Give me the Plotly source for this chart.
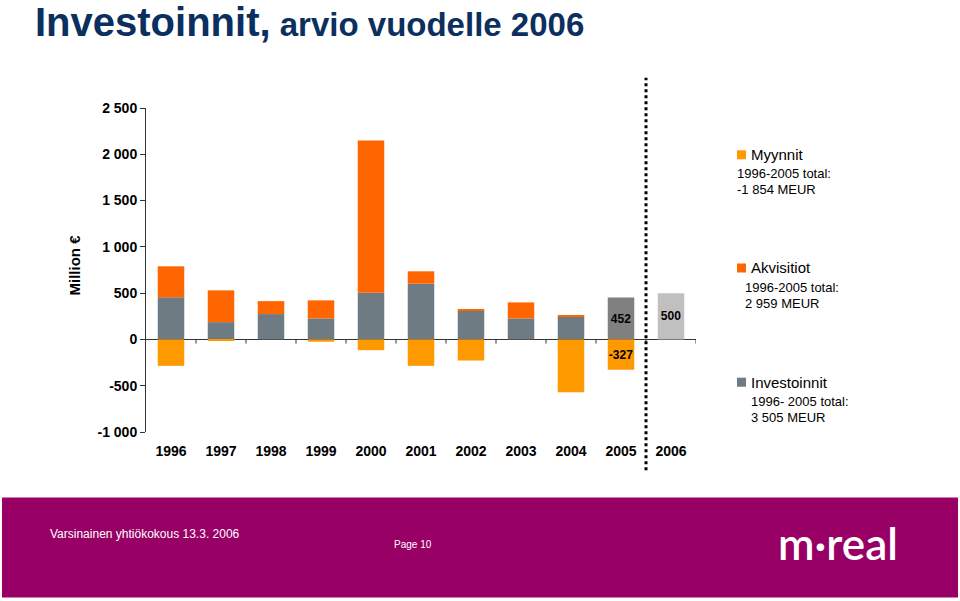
import plotly.graph_objects as go

years = ["1996", "1997", "1998", "1999", "2000", "2001", "2002", "2003", "2004", "2005", "2006"]
investoinnit = [455, 187, 274, 227, 505, 602, 310, 227, 245, 452, 500]
akvisitiot = [335, 343, 140, 195, 1645, 134, 8, 173, 15, 0, 0]
myynnit = [-285, -8, 0, -25, -116, -285, -228, 0, -570, -327, 0]
inv_labels = ["", "", "", "", "", "", "", "", "", "452", "500"]
myy_labels = ["", "", "", "", "", "", "", "", "", "-327", ""]
y_tickvals = [2500, 2000, 1500, 1000, 500, 0, -500, -1000]
y_ticktext = ["2 500", "2 000", "1 500", "1 000", "500", "0", "-500", "-1 000"]
legend_names = ["Myynnit", "Akvisitiot", "Investoinnit"]
legend_sub = [["1996-2005 total:", "-1 854 MEUR"],
              ["1996-2005 total:", "2 959 MEUR"],
              ["1996- 2005 total:", "3 505 MEUR"]]

C_MYY = "#FF9900"
C_AKV = "#FF6600"
C_INV = "#6E7B83"
C_2005 = "#808080"
C_2006 = "#C0C0C0"
inv_colors = [C_INV] * 9 + [C_2005, C_2006]

W, H = 960, 601
L, R_EDGE, T, B_EDGE = 146, 696, 108.3, 431.7


def px2x(px):
    return (px - L) / (R_EDGE - L)


def py2y(py):
    return (B_EDGE - py) / (B_EDGE - T)


FONT = "Liberation Sans, Arial, sans-serif"

fig = go.Figure()
fig.add_trace(go.Bar(x=years, y=investoinnit, marker=dict(color=inv_colors, line=dict(width=0)),
                     text=inv_labels, textposition="inside", insidetextanchor="middle",
                     textangle=0, constraintext="none",
                     textfont=dict(family=FONT, size=12, color="black", weight="bold"),
                     name="Investoinnit", hoverinfo="y"))
fig.add_trace(go.Bar(x=years, y=akvisitiot, marker=dict(color=C_AKV, line=dict(width=0)),
                     name="Akvisitiot", hoverinfo="y"))
fig.add_trace(go.Bar(x=years, y=myynnit, marker=dict(color=C_MYY, line=dict(width=0)),
                     text=myy_labels, textposition="inside", insidetextanchor="middle",
                     textangle=0, constraintext="none",
                     textfont=dict(family=FONT, size=12, color="black", weight="bold"),
                     name="Myynnit", hoverinfo="y"))

shapes = []
# tick marks on the zero line at category boundaries
for i in range(len(years)):
    shapes.append(dict(type="line", xref="x", yref="y", x0=i + 0.5, x1=i + 0.5,
                       y0=0, y1=-45, line=dict(color="#333", width=1)))
# dotted separator before forecast year
shapes.append(dict(type="line", xref="x", yref="paper", x0=len(years) - 1.5, x1=len(years) - 1.5,
                   y0=py2y(470), y1=py2y(78), line=dict(color="black", width=3, dash="dot")))
# footer band
shapes.append(dict(type="rect", xref="paper", yref="paper", x0=px2x(2), x1=px2x(958),
                   y0=py2y(597), y1=py2y(497), fillcolor="#990066", line=dict(width=0), layer="below"))

annotations = []
# title
annotations.append(dict(xref="paper", yref="paper", x=px2x(33), y=py2y(22), xanchor="left", yanchor="middle",
                        showarrow=False,
                        text="<b><span style='font-size:40px'>Investoinnit,</span>"
                             "<span style='font-size:33px'> arvio vuodelle 2006</span></b>",
                        font=dict(family="Liberation Sans Narrow, Arial Narrow, Liberation Sans, sans-serif",
                                  color="#0B2F5E")))
# y-axis title
annotations.append(dict(xref="paper", yref="paper", x=px2x(64), y=py2y(265), showarrow=False,
                        text="<b>Million €</b>", textangle=-90,
                        font=dict(family=FONT, size=15, color="black")))

# legend
leg_colors = [C_MYY, C_AKV, C_INV]
leg_y = [155, 268, 382]
sub_x = [737, 745, 751]
for name, subs, col, yy, sx in zip(legend_names, legend_sub, leg_colors, leg_y, sub_x):
    shapes.append(dict(type="rect", xref="paper", yref="paper", x0=px2x(737), x1=px2x(746),
                       y0=py2y(yy + 4.5), y1=py2y(yy - 4.5), fillcolor=col, line=dict(width=0)))
    annotations.append(dict(xref="paper", yref="paper", x=px2x(749), y=py2y(yy), xanchor="left",
                            yanchor="middle", showarrow=False, text=name,
                            font=dict(family=FONT, size=15, color="black")))
    for k, s in enumerate(subs):
        annotations.append(dict(xref="paper", yref="paper", x=px2x(sx - 2), y=py2y(yy + 19 + 16 * k),
                                xanchor="left", yanchor="middle", showarrow=False, text=s,
                                font=dict(family=FONT, size=13, color="black")))

# footer texts
annotations.append(dict(xref="paper", yref="paper", x=px2x(48), y=py2y(534), xanchor="left", yanchor="middle",
                        showarrow=False, text="Varsinainen yhtiökokous 13.3. 2006",
                        font=dict(family="Liberation Sans Narrow, Liberation Sans, sans-serif", size=12, color="white")))
annotations.append(dict(xref="paper", yref="paper", x=px2x(392), y=py2y(544), xanchor="left", yanchor="middle",
                        showarrow=False, text="Page 10",
                        font=dict(family="Liberation Sans Narrow, Liberation Sans, sans-serif", size=10, color="white")))
annotations.append(dict(xref="paper", yref="paper", x=px2x(838), y=py2y(542), xanchor="center", yanchor="middle",
                        showarrow=False, text="m·real",
                        font=dict(family="Lato, sans-serif", size=44, color="white", weight=600)))

fig.update_layout(
    width=W, height=H,
    margin=dict(l=L, r=W - R_EDGE, t=T, b=H - B_EDGE, pad=0),
    paper_bgcolor="white", plot_bgcolor="white",
    barmode="relative", bargap=0.47,
    showlegend=False,
    font=dict(family=FONT, color="black"),
    shapes=shapes, annotations=annotations,
    xaxis=dict(type="category", range=[-0.5, len(years) - 0.5], showgrid=False, showline=False,
               zeroline=False, ticks="outside", ticklen=6, tickcolor="rgba(0,0,0,0)",
               tickfont=dict(family=FONT, size=14, color="black", weight="bold"), fixedrange=True),
    yaxis=dict(range=[-1000, 2500], tickvals=y_tickvals, ticktext=y_ticktext, showgrid=False,
               showline=True, linecolor="#333", linewidth=1, ticks="outside", ticklen=5, tickcolor="#333",
               zeroline=True, zerolinecolor="#333", zerolinewidth=1,
               tickfont=dict(family=FONT, size=14, color="black", weight="bold"), fixedrange=True),
)

fig.write_html("out.html", post_script="document.body.style.margin='0px';",
               config={"displayModeBar": False})
